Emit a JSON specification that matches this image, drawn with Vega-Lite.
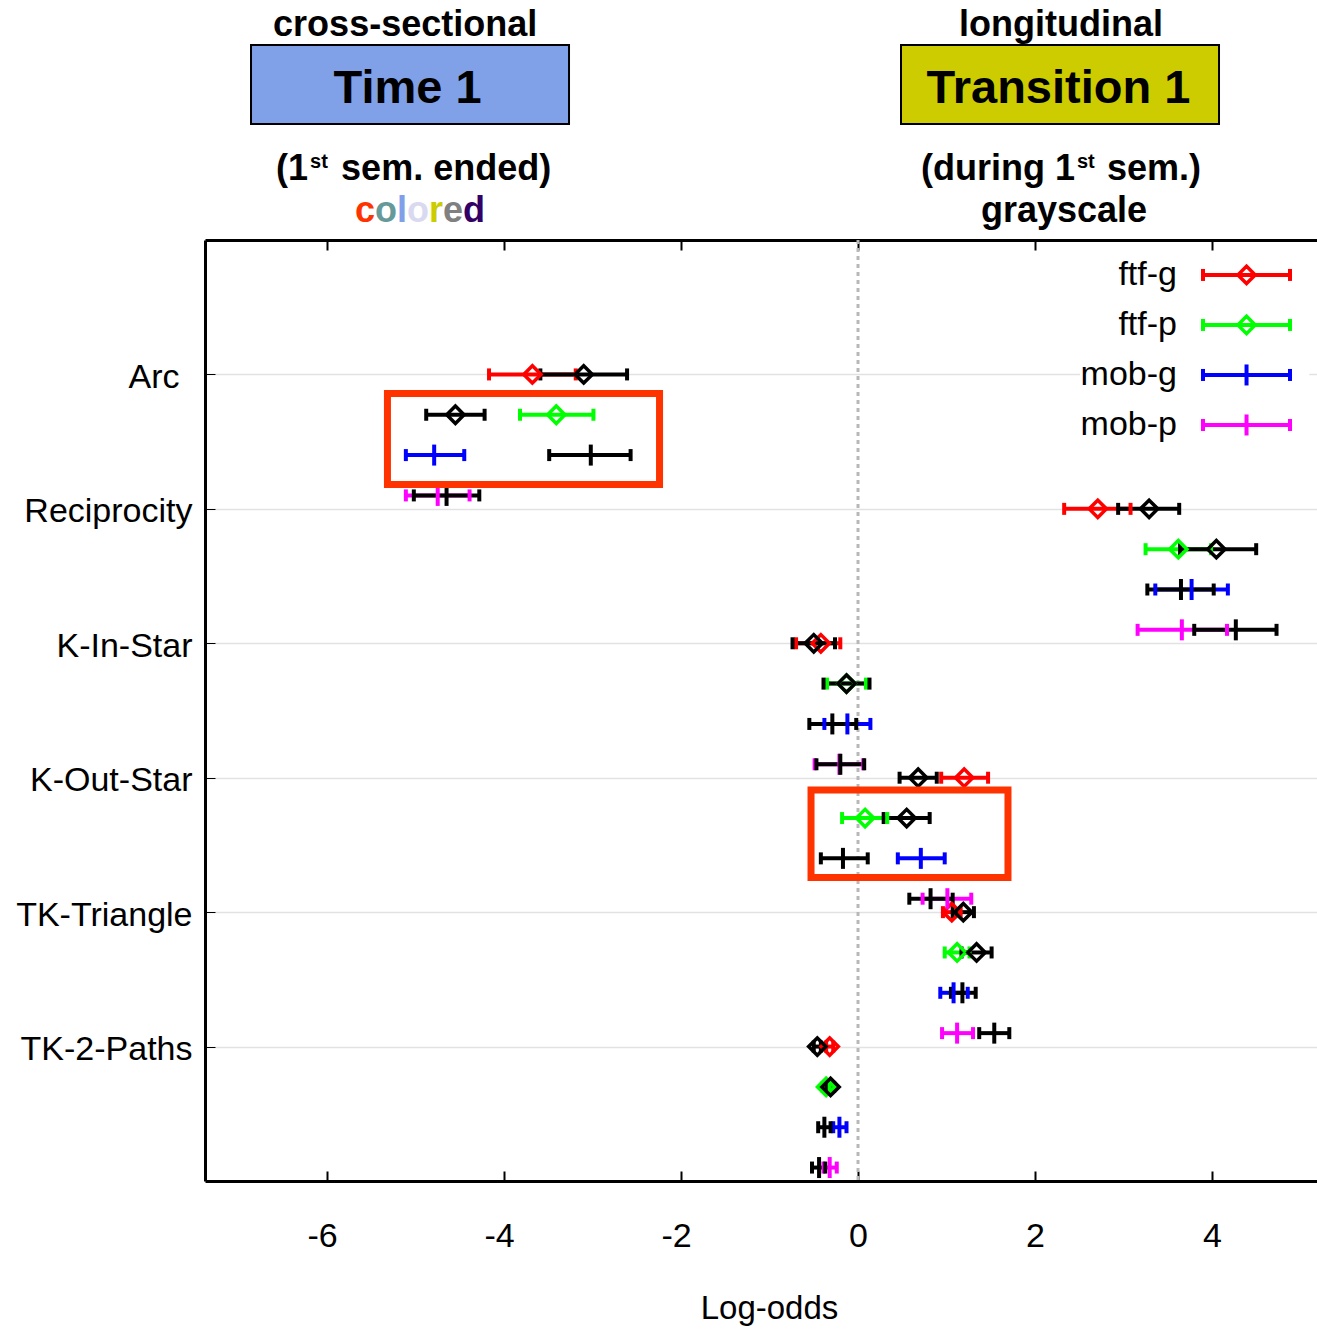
{
  "$schema": "https://vega.github.io/schema/vega-lite/v6.json",
  "width": 1114,
  "height": 941,
  "autosize": {"type": "none"},
  "padding": {"left": 205, "top": 240, "right": 0, "bottom": 149},
  "background": "white",
  "config": {
    "view": {"stroke": null},
    "font": "Liberation Sans",
    "axis": {"labelFont": "Liberation Sans", "titleFont": "Liberation Sans", "domainColor": "black", "domainWidth": 3, "tickColor": "black", "labelColor": "black", "titleColor": "black"}
  },
  "datasets": {
    "est": [
      {"t": "Arc", "p": 1.0, "g": "ftf-g", "m": "T1", "e": -3.68, "lo": -4.17, "hi": -3.19},
      {"t": "Arc", "p": 1.3, "g": "ftf-p", "m": "T1", "e": -3.41, "lo": -3.82, "hi": -2.99},
      {"t": "Arc", "p": 1.6, "g": "mob-g", "m": "T1", "e": -4.79, "lo": -5.11, "hi": -4.45},
      {"t": "Arc", "p": 1.9, "g": "mob-p", "m": "T1", "e": -4.75, "lo": -5.11, "hi": -4.39},
      {"t": "Reciprocity", "p": 2.0, "g": "ftf-g", "m": "T1", "e": 2.71, "lo": 2.33, "hi": 3.08},
      {"t": "Reciprocity", "p": 2.3, "g": "ftf-p", "m": "T1", "e": 3.62, "lo": 3.25, "hi": 3.99},
      {"t": "Reciprocity", "p": 2.6, "g": "mob-g", "m": "T1", "e": 3.77, "lo": 3.36, "hi": 4.18},
      {"t": "Reciprocity", "p": 2.9, "g": "mob-p", "m": "T1", "e": 3.66, "lo": 3.16, "hi": 4.17},
      {"t": "K-In-Star", "p": 3.0, "g": "ftf-g", "m": "T1", "e": -0.42, "lo": -0.70, "hi": -0.20},
      {"t": "K-In-Star", "p": 3.3, "g": "ftf-p", "m": "T1", "e": -0.13, "lo": -0.35, "hi": 0.09},
      {"t": "K-In-Star", "p": 3.6, "g": "mob-g", "m": "T1", "e": -0.12, "lo": -0.38, "hi": 0.14},
      {"t": "K-In-Star", "p": 3.9, "g": "mob-p", "m": "T1", "e": -0.21, "lo": -0.49, "hi": 0.06},
      {"t": "K-Out-Star", "p": 4.0, "g": "ftf-g", "m": "T1", "e": 1.20, "lo": 0.94, "hi": 1.47},
      {"t": "K-Out-Star", "p": 4.3, "g": "ftf-p", "m": "T1", "e": 0.08, "lo": -0.18, "hi": 0.33},
      {"t": "K-Out-Star", "p": 4.6, "g": "mob-g", "m": "T1", "e": 0.71, "lo": 0.45, "hi": 0.98},
      {"t": "K-Out-Star", "p": 4.9, "g": "mob-p", "m": "T1", "e": 1.01, "lo": 0.73, "hi": 1.28},
      {"t": "TK-Triangle", "p": 5.0, "g": "ftf-g", "m": "T1", "e": 1.06, "lo": 0.96, "hi": 1.16},
      {"t": "TK-Triangle", "p": 5.3, "g": "ftf-p", "m": "T1", "e": 1.12, "lo": 0.98, "hi": 1.26},
      {"t": "TK-Triangle", "p": 5.6, "g": "mob-g", "m": "T1", "e": 1.08, "lo": 0.93, "hi": 1.24},
      {"t": "TK-Triangle", "p": 5.9, "g": "mob-p", "m": "T1", "e": 1.12, "lo": 0.95, "hi": 1.30},
      {"t": "TK-2-Paths", "p": 6.0, "g": "ftf-g", "m": "T1", "e": -0.32, "lo": -0.36, "hi": -0.28},
      {"t": "TK-2-Paths", "p": 6.3, "g": "ftf-p", "m": "T1", "e": -0.36, "lo": -0.40, "hi": -0.32},
      {"t": "TK-2-Paths", "p": 6.6, "g": "mob-g", "m": "T1", "e": -0.21, "lo": -0.28, "hi": -0.13},
      {"t": "TK-2-Paths", "p": 6.9, "g": "mob-p", "m": "T1", "e": -0.32, "lo": -0.39, "hi": -0.24},
      {"t": "Arc", "p": 1.0, "g": "ftf-g", "m": "TR1", "e": -3.10, "lo": -3.59, "hi": -2.61},
      {"t": "Arc", "p": 1.3, "g": "ftf-p", "m": "TR1", "e": -4.55, "lo": -4.88, "hi": -4.22},
      {"t": "Arc", "p": 1.6, "g": "mob-g", "m": "TR1", "e": -3.02, "lo": -3.49, "hi": -2.57},
      {"t": "Arc", "p": 1.9, "g": "mob-p", "m": "TR1", "e": -4.65, "lo": -5.02, "hi": -4.28},
      {"t": "Reciprocity", "p": 2.0, "g": "ftf-g", "m": "TR1", "e": 3.29, "lo": 2.94, "hi": 3.63},
      {"t": "Reciprocity", "p": 2.3, "g": "ftf-p", "m": "TR1", "e": 4.05, "lo": 3.64, "hi": 4.50},
      {"t": "Reciprocity", "p": 2.6, "g": "mob-g", "m": "TR1", "e": 3.65, "lo": 3.27, "hi": 4.02},
      {"t": "Reciprocity", "p": 2.9, "g": "mob-p", "m": "TR1", "e": 4.27, "lo": 3.80, "hi": 4.73},
      {"t": "K-In-Star", "p": 3.0, "g": "ftf-g", "m": "TR1", "e": -0.50, "lo": -0.74, "hi": -0.26},
      {"t": "K-In-Star", "p": 3.3, "g": "ftf-p", "m": "TR1", "e": -0.13, "lo": -0.39, "hi": 0.13},
      {"t": "K-In-Star", "p": 3.6, "g": "mob-g", "m": "TR1", "e": -0.29, "lo": -0.55, "hi": -0.02},
      {"t": "K-In-Star", "p": 3.9, "g": "mob-p", "m": "TR1", "e": -0.20, "lo": -0.47, "hi": 0.07},
      {"t": "K-Out-Star", "p": 4.0, "g": "ftf-g", "m": "TR1", "e": 0.68, "lo": 0.47, "hi": 0.89},
      {"t": "K-Out-Star", "p": 4.3, "g": "ftf-p", "m": "TR1", "e": 0.55, "lo": 0.29, "hi": 0.81},
      {"t": "K-Out-Star", "p": 4.6, "g": "mob-g", "m": "TR1", "e": -0.17, "lo": -0.42, "hi": 0.11},
      {"t": "K-Out-Star", "p": 4.9, "g": "mob-p", "m": "TR1", "e": 0.82, "lo": 0.58, "hi": 1.07},
      {"t": "TK-Triangle", "p": 5.0, "g": "ftf-g", "m": "TR1", "e": 1.19, "lo": 1.07, "hi": 1.31},
      {"t": "TK-Triangle", "p": 5.3, "g": "ftf-p", "m": "TR1", "e": 1.34, "lo": 1.17, "hi": 1.51},
      {"t": "TK-Triangle", "p": 5.6, "g": "mob-g", "m": "TR1", "e": 1.18, "lo": 1.05, "hi": 1.33},
      {"t": "TK-Triangle", "p": 5.9, "g": "mob-p", "m": "TR1", "e": 1.54, "lo": 1.37, "hi": 1.71},
      {"t": "TK-2-Paths", "p": 6.0, "g": "ftf-g", "m": "TR1", "e": -0.46, "lo": -0.50, "hi": -0.42},
      {"t": "TK-2-Paths", "p": 6.3, "g": "ftf-p", "m": "TR1", "e": -0.31, "lo": -0.35, "hi": -0.27},
      {"t": "TK-2-Paths", "p": 6.6, "g": "mob-g", "m": "TR1", "e": -0.38, "lo": -0.45, "hi": -0.31},
      {"t": "TK-2-Paths", "p": 6.9, "g": "mob-p", "m": "TR1", "e": -0.44, "lo": -0.52, "hi": -0.37},
      {"t": "legend", "p": 0.260, "g": "ftf-g", "m": "T1", "e": 4.391, "lo": 3.899, "hi": 4.882},
      {"t": "legend", "p": 0.632, "g": "ftf-p", "m": "T1", "e": 4.391, "lo": 3.899, "hi": 4.882},
      {"t": "legend", "p": 1.004, "g": "mob-g", "m": "T1", "e": 4.391, "lo": 3.899, "hi": 4.882},
      {"t": "legend", "p": 1.376, "g": "mob-p", "m": "T1", "e": 4.391, "lo": 3.899, "hi": 4.882}
    ],
    "box": [
      {"k": "bg", "x": 2.51, "x2": 5.1, "y": 0.09, "y2": 1.6},
      {"k": "red", "x": -5.318, "x2": -2.243, "y": 1.142, "y2": 1.819},
      {"k": "red", "x": -0.531, "x2": 1.695, "y": 4.091, "y2": 4.742},
      {"k": "t1", "x": -6.860, "x2": -3.266, "y": -1.4506, "y2": -0.8629},
      {"k": "t2", "x": 0.486, "x2": 4.080, "y": -1.4506, "y2": -0.8629}
    ],
    "txt": [
      {"k": "h", "x": -5.118, "y": -1.5175, "s": "cross-sectional"},
      {"k": "h", "x": 2.294, "y": -1.5175, "s": "longitudinal"},
      {"k": "h", "x": 2.328, "y": -0.134, "s": "grayscale"},
      {"k": "b", "x": -5.09, "y": -1.019, "s": "Time 1"},
      {"k": "b", "x": 2.266, "y": -1.019, "s": "Transition 1"},
      {"k": "r", "x": -6.216, "y": -0.446, "s": "(1"},
      {"k": "l", "x": -5.842, "y": -0.446, "s": "sem. ended)"},
      {"k": "r", "x": 2.453, "y": -0.446, "s": "(during 1"},
      {"k": "l", "x": 2.814, "y": -0.446, "s": "sem.)"},
      {"k": "s", "x": -6.192, "y": -0.536, "s": "st"},
      {"k": "s", "x": 2.475, "y": -0.536, "s": "st"},
      {"k": "c", "i": 1, "x": -5.685, "y": -0.134, "s": "c"},
      {"k": "c", "i": 2, "x": -5.459, "y": -0.134, "s": "o"},
      {"k": "c", "i": 3, "x": -5.210, "y": -0.134, "s": "l"},
      {"k": "c", "i": 4, "x": -5.097, "y": -0.134, "s": "o"},
      {"k": "c", "i": 5, "x": -4.849, "y": -0.134, "s": "r"},
      {"k": "c", "i": 6, "x": -4.690, "y": -0.134, "s": "e"},
      {"k": "c", "i": 7, "x": -4.464, "y": -0.134, "s": "d"}
    ]
  },
  "resolve": {"axis": {"x": "independent"}},
  "layer": [
    {
      "data": {"name": "box"},
      "transform": [{"filter": "datum.k === 'bg'"}],
      "mark": {"type": "rect", "fill": "white", "strokeWidth": 0},
      "encoding": {
        "x": {"field": "x", "type": "quantitative", "scale": {"domain": [-7.38, 5.21], "nice": false, "zero": false}, "axis": null},
        "x2": {"field": "x2"},
        "y": {"field": "y", "type": "quantitative", "scale": {"domain": [0, 7], "reverse": true, "nice": false, "zero": false},
          "axis": {"values": [1, 2, 3, 4, 5, 6], "labelExpr": "['','Arc','Reciprocity','K-In-Star','K-Out-Star','TK-Triangle','TK-2-Paths'][datum.value]", "labelFontSize": 34, "labelPadding": {"condition": {"test": "datum.value === 1", "value": 36}, "value": 23}, "labelOffset": 3, "tickSize": -10, "tickWidth": 1, "grid": true, "gridColor": "#e2e2e2", "gridWidth": 1.5, "domainWidth": 3, "title": null}},
        "y2": {"field": "y2"}
      }
    },
    {
      "data": {"name": "box"},
      "transform": [{"filter": "datum.k === 'bg'"}],
      "mark": {"type": "rule", "color": "#b8b8b8", "strokeWidth": 3, "strokeDash": [4, 4]},
      "encoding": {
        "x": {"datum": 0, "type": "quantitative", "scale": {"domain": [-7.38, 5.21], "nice": false, "zero": false}, "axis": null}
      }
    },
    {
      "data": {"name": "est"},
      "mark": {"type": "rule", "strokeWidth": 4, "opacity": 1},
      "encoding": {
        "x": {"field": "lo", "type": "quantitative", "scale": {"domain": [-7.38, 5.21], "nice": false, "zero": false},
          "axis": {"orient": "bottom", "values": [-6, -4, -2, 0, 2, 4], "labelExpr": "toString(datum.value)", "labelOffset": {"condition": {"test": "datum.value < 0", "value": -5}, "value": 0}, "tickSize": -10, "tickWidth": 2, "grid": false, "labelFontSize": 34, "labelPadding": 48, "title": "Log-odds", "titleFontSize": 33, "titleFontWeight": "normal", "titleX": 564, "titleY": 137, "titleBaseline": "alphabetic", "titleAlign": "center", "domainWidth": 3}},
        "x2": {"field": "hi"},
        "y": {"field": "p", "type": "quantitative", "scale": {"domain": [0, 7], "reverse": true, "nice": false, "zero": false}, "title": null},
        "color": {"condition": {"test": "datum.m === 'TR1'", "value": "black"}, "field": "g", "type": "nominal", "scale": {"domain": ["ftf-g", "ftf-p", "mob-g", "mob-p"], "range": ["#ff0000", "#00ff00", "#0000ff", "#ff00ff"]}, "legend": null}
      }
    },
    {
      "data": {"name": "est"},
      "mark": {"type": "tick", "orient": "vertical", "size": 12, "thickness": 4, "opacity": 1},
      "encoding": {
        "x": {"field": "lo", "type": "quantitative", "scale": {"domain": [-7.38, 5.21], "nice": false, "zero": false}, "axis": null},
        "y": {"field": "p", "type": "quantitative", "scale": {"domain": [0, 7], "reverse": true, "nice": false, "zero": false}, "title": null},
        "color": {"condition": {"test": "datum.m === 'TR1'", "value": "black"}, "field": "g", "type": "nominal", "scale": {"domain": ["ftf-g", "ftf-p", "mob-g", "mob-p"], "range": ["#ff0000", "#00ff00", "#0000ff", "#ff00ff"]}, "legend": null}
      }
    },
    {
      "data": {"name": "est"},
      "mark": {"type": "tick", "orient": "vertical", "size": 12, "thickness": 4, "opacity": 1},
      "encoding": {
        "x": {"field": "hi", "type": "quantitative", "scale": {"domain": [-7.38, 5.21], "nice": false, "zero": false}, "axis": null},
        "y": {"field": "p", "type": "quantitative", "scale": {"domain": [0, 7], "reverse": true, "nice": false, "zero": false}, "title": null},
        "color": {"condition": {"test": "datum.m === 'TR1'", "value": "black"}, "field": "g", "type": "nominal", "scale": {"domain": ["ftf-g", "ftf-p", "mob-g", "mob-p"], "range": ["#ff0000", "#00ff00", "#0000ff", "#ff00ff"]}, "legend": null}
      }
    },
    {
      "data": {"name": "est"},
      "transform": [{"filter": "datum.g === 'ftf-g' || datum.g === 'ftf-p'"}],
      "mark": {"type": "point", "shape": "diamond", "filled": false, "size": 300, "strokeWidth": 3.5, "opacity": 1},
      "encoding": {
        "x": {"field": "e", "type": "quantitative", "scale": {"domain": [-7.38, 5.21], "nice": false, "zero": false}, "axis": null},
        "y": {"field": "p", "type": "quantitative", "scale": {"domain": [0, 7], "reverse": true, "nice": false, "zero": false}, "title": null},
        "color": {"condition": {"test": "datum.m === 'TR1'", "value": "black"}, "field": "g", "type": "nominal", "scale": {"domain": ["ftf-g", "ftf-p", "mob-g", "mob-p"], "range": ["#ff0000", "#00ff00", "#0000ff", "#ff00ff"]}, "legend": null}
      }
    },
    {
      "data": {"name": "est"},
      "transform": [{"filter": "datum.g === 'mob-g' || datum.g === 'mob-p'"}],
      "mark": {"type": "tick", "orient": "vertical", "size": 21, "thickness": 4, "opacity": 1},
      "encoding": {
        "x": {"field": "e", "type": "quantitative", "scale": {"domain": [-7.38, 5.21], "nice": false, "zero": false}, "axis": null},
        "y": {"field": "p", "type": "quantitative", "scale": {"domain": [0, 7], "reverse": true, "nice": false, "zero": false}, "title": null},
        "color": {"condition": {"test": "datum.m === 'TR1'", "value": "black"}, "field": "g", "type": "nominal", "scale": {"domain": ["ftf-g", "ftf-p", "mob-g", "mob-p"], "range": ["#ff0000", "#00ff00", "#0000ff", "#ff00ff"]}, "legend": null}
      }
    },
    {
      "data": {"name": "est"},
      "transform": [{"filter": "datum.t === 'legend'"}],
      "mark": {"type": "text", "align": "right", "baseline": "middle", "dx": -26, "fontSize": 34, "font": "Liberation Sans", "color": "black"},
      "encoding": {
        "x": {"field": "lo", "type": "quantitative", "scale": {"domain": [-7.38, 5.21], "nice": false, "zero": false}, "axis": null},
        "y": {"field": "p", "type": "quantitative", "scale": {"domain": [0, 7], "reverse": true, "nice": false, "zero": false}, "title": null},
        "text": {"field": "g"}
      }
    },
    {
      "data": {"name": "box"},
      "transform": [{"filter": "datum.k === 'red'"}],
      "mark": {"type": "rect", "filled": false, "fill": null, "stroke": "#ff3300", "strokeWidth": 7},
      "encoding": {
        "x": {"field": "x", "type": "quantitative", "scale": {"domain": [-7.38, 5.21], "nice": false, "zero": false},
          "axis": {"orient": "top", "values": [-6, -4, -2, 0, 2, 4], "labels": false, "tickSize": -10, "tickWidth": 2, "grid": false, "domainWidth": 3, "title": null}},
        "x2": {"field": "x2"},
        "y": {"field": "y", "type": "quantitative", "scale": {"domain": [0, 7], "reverse": true, "nice": false, "zero": false}, "title": null},
        "y2": {"field": "y2"}
      }
    },
    {
      "data": {"name": "box"},
      "transform": [{"filter": "datum.k === 't1'"}],
      "mark": {"type": "rect", "fill": "#80a0e8", "stroke": "black", "strokeWidth": 2},
      "encoding": {
        "x": {"field": "x", "type": "quantitative", "scale": {"domain": [-7.38, 5.21], "nice": false, "zero": false}, "axis": null},
        "x2": {"field": "x2"},
        "y": {"field": "y", "type": "quantitative", "scale": {"domain": [0, 7], "reverse": true, "nice": false, "zero": false}, "title": null},
        "y2": {"field": "y2"}
      }
    },
    {
      "data": {"name": "box"},
      "transform": [{"filter": "datum.k === 't2'"}],
      "mark": {"type": "rect", "fill": "#cccc00", "stroke": "black", "strokeWidth": 2},
      "encoding": {
        "x": {"field": "x", "type": "quantitative", "scale": {"domain": [-7.38, 5.21], "nice": false, "zero": false}, "axis": null},
        "x2": {"field": "x2"},
        "y": {"field": "y", "type": "quantitative", "scale": {"domain": [0, 7], "reverse": true, "nice": false, "zero": false}, "title": null},
        "y2": {"field": "y2"}
      }
    },
    {
      "data": {"name": "txt"},
      "transform": [{"filter": "datum.k === 'h'"}],
      "mark": {"type": "text", "align": "center", "baseline": "alphabetic", "fontSize": 36, "fontWeight": "bold", "font": "Liberation Sans", "color": "black"},
      "encoding": {
        "x": {"field": "x", "type": "quantitative", "scale": {"domain": [-7.38, 5.21], "nice": false, "zero": false}, "axis": null},
        "y": {"field": "y", "type": "quantitative", "scale": {"domain": [0, 7], "reverse": true, "nice": false, "zero": false}, "title": null},
        "text": {"field": "s"}
      }
    },
    {
      "data": {"name": "txt"},
      "transform": [{"filter": "datum.k === 'b'"}],
      "mark": {"type": "text", "align": "center", "baseline": "alphabetic", "fontSize": 47, "fontWeight": "bold", "font": "Liberation Sans", "color": "black"},
      "encoding": {
        "x": {"field": "x", "type": "quantitative", "scale": {"domain": [-7.38, 5.21], "nice": false, "zero": false}, "axis": null},
        "y": {"field": "y", "type": "quantitative", "scale": {"domain": [0, 7], "reverse": true, "nice": false, "zero": false}, "title": null},
        "text": {"field": "s"}
      }
    },
    {
      "data": {"name": "txt"},
      "transform": [{"filter": "datum.k === 'l'"}],
      "mark": {"type": "text", "align": "left", "baseline": "alphabetic", "fontSize": 36, "fontWeight": "bold", "font": "Liberation Sans", "color": "black"},
      "encoding": {
        "x": {"field": "x", "type": "quantitative", "scale": {"domain": [-7.38, 5.21], "nice": false, "zero": false}, "axis": null},
        "y": {"field": "y", "type": "quantitative", "scale": {"domain": [0, 7], "reverse": true, "nice": false, "zero": false}, "title": null},
        "text": {"field": "s"}
      }
    },
    {
      "data": {"name": "txt"},
      "transform": [{"filter": "datum.k === 'r'"}],
      "mark": {"type": "text", "align": "right", "baseline": "alphabetic", "fontSize": 36, "fontWeight": "bold", "font": "Liberation Sans", "color": "black"},
      "encoding": {
        "x": {"field": "x", "type": "quantitative", "scale": {"domain": [-7.38, 5.21], "nice": false, "zero": false}, "axis": null},
        "y": {"field": "y", "type": "quantitative", "scale": {"domain": [0, 7], "reverse": true, "nice": false, "zero": false}, "title": null},
        "text": {"field": "s"}
      }
    },
    {
      "data": {"name": "txt"},
      "transform": [{"filter": "datum.k === 's'"}],
      "mark": {"type": "text", "align": "left", "baseline": "alphabetic", "fontSize": 20, "fontWeight": "bold", "font": "Liberation Sans", "color": "black"},
      "encoding": {
        "x": {"field": "x", "type": "quantitative", "scale": {"domain": [-7.38, 5.21], "nice": false, "zero": false}, "axis": null},
        "y": {"field": "y", "type": "quantitative", "scale": {"domain": [0, 7], "reverse": true, "nice": false, "zero": false}, "title": null},
        "text": {"field": "s"}
      }
    },
    {
      "data": {"name": "txt"},
      "transform": [{"filter": "datum.k === 'c'"}],
      "mark": {"type": "text", "align": "left", "baseline": "alphabetic", "fontSize": 36, "fontWeight": "bold", "font": "Liberation Sans"},
      "encoding": {
        "x": {"field": "x", "type": "quantitative", "scale": {"domain": [-7.38, 5.21], "nice": false, "zero": false}, "axis": null},
        "y": {"field": "y", "type": "quantitative", "scale": {"domain": [0, 7], "reverse": true, "nice": false, "zero": false}, "title": null},
        "text": {"field": "s"},
        "fill": {"field": "i", "type": "ordinal", "scale": {"domain": [1, 2, 3, 4, 5, 6, 7], "range": ["#ff3300", "#669999", "#7f9fe8", "#d9d9f0", "#cccc00", "#808080", "#330066"]}, "legend": null}
      }
    }
  ]
}
